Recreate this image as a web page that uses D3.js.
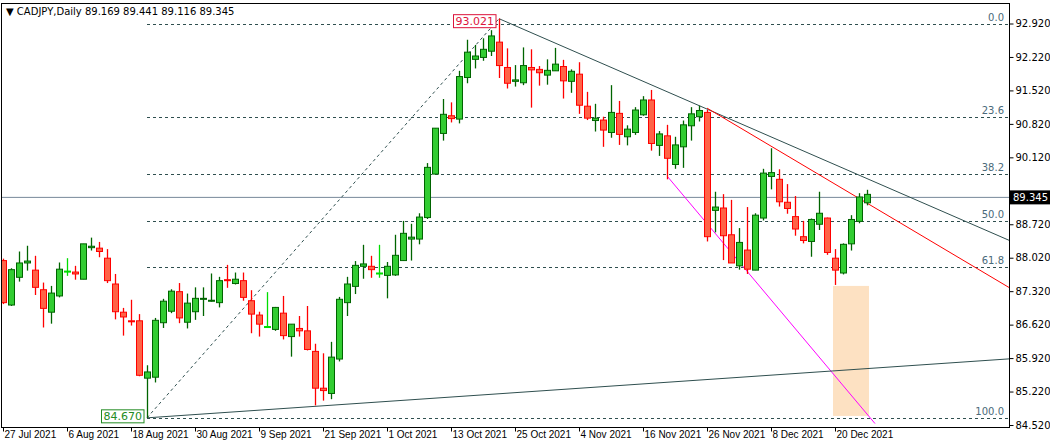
<!DOCTYPE html>
<html><head><meta charset="utf-8">
<script src="https://cdn.jsdelivr.net/npm/d3@7"></script>
<style>body{margin:0;background:#fff}text{font-family:"DejaVu Sans",sans-serif}</style>
</head><body><svg id="c" width="1050" height="448"></svg>
<script>
const open = [87.96,87.03,87.61,87.91,87.76,87.35,86.88,87.22,87.74,87.72,87.57,88.23,88.22,88.01,87.47,86.88,86.70,86.70,85.50,85.52,86.66,86.90,87.31,
86.67,86.89,87.15,87.12,87.08,87.56,87.48,87.54,87.12,86.82,86.58,86.52,86.86,86.37,86.54,86.49,86.06,85.29,85.18,85.90,87.08,
87.42,87.84,87.84,87.70,87.65,87.66,87.96,88.41,88.41,88.86,89.77,90.62,90.99,90.92,91.79,92.17,92.21,92.34,92.53,92.00,
91.71,91.68,92.00,91.96,91.84,91.93,92.02,91.71,91.86,91.19,90.89,90.90,90.64,91.04,90.55,90.64,91.01,91.32,90.37,90.57,89.97,90.34,
90.78,90.97,91.06,89.01,89.06,88.50,87.85,88.18,87.76,88.85,89.72,89.66,89.18,88.88,88.46,88.36,88.72,88.85,88.01,87.70,88.31,88.78,89.169];
const high = [88.00,87.80,88.15,88.27,88.06,87.50,87.43,87.92,88.01,87.85,88.31,88.44,88.35,88.20,87.68,86.97,87.14,86.84,85.77,86.76,87.16,87.36,87.49,
87.27,87.40,87.40,87.69,87.62,87.87,87.71,87.71,87.34,86.89,87.30,86.99,87.22,86.63,86.80,87.01,86.22,86.02,86.26,87.20,87.62,
87.95,88.29,88.06,88.29,87.93,88.50,88.79,88.73,88.95,90.00,90.73,91.34,91.27,91.93,92.58,92.47,92.61,92.78,93.021,92.40,
92.05,92.42,92.38,92.03,92.17,92.41,92.16,91.96,92.11,91.49,91.24,90.97,91.63,91.30,90.79,91.17,91.40,91.53,90.67,90.80,90.55,90.89,
91.17,91.20,91.11,89.40,89.35,89.23,88.64,89.08,88.95,89.88,90.31,89.87,89.56,89.31,88.79,88.84,89.40,88.86,88.20,88.32,88.91,89.37,89.441];
const low = [87.05,87.01,87.52,87.75,87.24,86.56,86.64,87.19,87.64,87.56,87.57,88.17,88.03,87.49,86.73,86.39,86.60,85.54,84.67,85.41,86.55,86.86,86.65,
86.54,86.72,86.80,87.10,86.98,87.39,87.46,87.12,86.44,86.37,86.56,86.49,86.31,85.95,86.37,86.08,84.93,85.03,85.06,85.85,86.80,
87.26,87.58,87.60,87.60,87.17,87.64,87.96,87.96,88.30,88.83,89.77,90.47,90.85,90.83,91.67,91.98,92.14,92.24,91.78,91.56,
91.60,91.63,91.16,91.62,91.64,91.93,91.35,91.47,91.03,90.90,90.66,90.34,90.53,90.38,90.37,90.59,90.99,90.26,90.15,89.66,89.88,89.90,
90.47,90.87,88.36,88.55,87.97,87.91,87.77,87.68,87.76,88.80,89.45,89.09,88.94,88.48,88.32,88.04,88.60,88.08,87.45,87.67,88.17,88.74,89.116];
const close = [87.08,87.77,87.91,87.95,87.40,86.96,87.28,87.78,87.74,87.68,88.31,88.26,88.15,87.54,86.89,86.78,86.69,85.56,85.63,86.71,87.11,87.32,86.76,
87.07,87.17,87.17,87.13,87.54,87.55,87.57,87.19,86.84,86.63,86.58,86.98,86.39,86.63,86.49,86.10,85.29,85.24,85.94,87.15,87.47,
87.86,87.89,87.77,87.70,87.84,88.07,88.53,88.45,88.87,89.91,90.73,91.02,90.93,91.81,92.32,92.24,92.38,92.66,92.04,91.67,
91.74,92.04,91.95,91.89,91.94,92.07,91.72,91.92,91.21,90.94,90.94,90.69,91.06,90.60,90.71,91.11,91.32,90.41,90.61,90.10,90.38,90.80,
91.03,91.10,88.46,89.08,88.48,87.91,88.34,87.78,88.91,89.79,89.80,89.19,89.05,88.62,88.38,88.82,88.95,88.13,87.76,88.30,88.82,89.29,89.345];
const dateLabels = ["27 Jul 2021","6 Aug 2021","18 Aug 2021","30 Aug 2021","9 Sep 2021","21 Sep 2021","1 Oct 2021",
  "13 Oct 2021","25 Oct 2021","4 Nov 2021","16 Nov 2021","26 Nov 2021","8 Dec 2021","20 Dec 2021"];
// 89.420 sits under the bid price tag, as in the reference
const priceTicks = [92.92,92.22,91.52,90.82,90.12,88.72,88.02,87.32,86.62,85.92,85.22,84.52];
const fibLevels = [0,23.6,38.2,50,61.8,100];
const fibLow = 84.67, fibHigh = 92.92, lastPrice = 89.345;

const L = 1, R = 1009, T = 3, B = 427;
const svg = d3.select("#c");
const x = d3.scaleLinear().domain([0, 108]).range([3, 867]);
const y = d3.scaleLinear().domain([84.52, 92.92]).range([425, 23.5]);
const root = svg.append("g");
root.append("clipPath").attr("id","clip").append("rect").attr("x",L).attr("y",T).attr("width",R-L).attr("height",B-T);
const g = root.append("g").attr("clip-path","url(#clip)");

// shaded box
g.append("rect").attr("x", x(104)-2).attr("y", y(87.43)).attr("width", x(108)-x(104)+4)
  .attr("height", y(84.71)-y(87.43)).attr("fill","#fde1c2");

// fib levels
const fibX0 = x(18);
fibLevels.forEach(f => {
  const p = fibHigh - f/100*(fibHigh-fibLow);
  g.append("line").attr("x1",fibX0).attr("x2",R).attr("y1",Math.round(y(p))+0.5).attr("y2",Math.round(y(p))+0.5)
    .attr("stroke","#2f4f4f").attr("stroke-dasharray","3,3");
  g.append("text").attr("x",1004).attr("y",Math.round(y(p))-3).attr("text-anchor","end")
    .attr("font-size",10).attr("fill","#4a6a7a").text(f.toFixed(1));
});
// bid line
g.append("line").attr("x1",L).attr("x2",R).attr("y1",y(lastPrice)+3).attr("y2",y(lastPrice)+3).attr("stroke","#778899");

// helper for lines extended to right edge
function ray(i0,p0,i1,p1,color,extend,dash){
  const s = (p1-p0)/(i1-i0);
  const iEnd = extend ? x.invert(R) : i1;
  g.append("line").attr("x1",x(i0)).attr("y1",y(p0)).attr("x2",x(iEnd)).attr("y2",y(p0+s*(iEnd-i0)))
    .attr("stroke",color).attr("stroke-width",1).attr("stroke-dasharray",dash||null);
}
ray(18,84.67,62,93.021,"#2f4f4f",false,"3,3");
ray(62,93.021,88,91.13,"#2f4f4f",true);
ray(88,91.15,105,89.46,"#ff0000",true);
ray(83,89.73,109,84.55,"#ff00ff",false);
ray(18,84.67,108,85.70,"#2f4f4f",true);

// candles
const idx = d3.range(open.length);
const col = i => close[i]>open[i] ? "bull" : (close[i]<open[i] ? "bear" : "doji");
const stroke = {bull:"#006400", bear:"#ff0000", doji:"#00dd00"};
const fill = {bull:"#32cd32", bear:"#ff6347", doji:"#00dd00"};
const cg = g.selectAll("g.c").data(idx).join("g").attr("class","c");
cg.append("line").attr("x1",i=>Math.round(x(i))+0.5).attr("x2",i=>Math.round(x(i))+0.5)
  .attr("y1",i=>y(high[i])).attr("y2",i=>y(low[i])).attr("stroke",i=>stroke[col(i)]).attr("stroke-width",1.3);
cg.append("rect").attr("x",i=>Math.round(x(i))-2.5).attr("width",6)
  .attr("y",i=>y(Math.max(open[i],close[i]))).attr("height",i=>Math.max(1,y(Math.min(open[i],close[i]))-y(Math.max(open[i],close[i]))))
  .attr("fill",i=>fill[col(i)]).attr("stroke",i=>stroke[col(i)]);

// price tags
function tag(cx,cy,txt,color){
  const box = root.append("rect");
  const t = root.append("text").attr("x",cx).attr("y",cy+5).attr("font-size",11).attr("fill",color)
    .attr("text-anchor","end").text(txt);
  const bb = t.node().getBBox();
  box.attr("x",bb.x-2).attr("y",bb.y).attr("width",bb.width+4).attr("height",bb.height)
    .attr("fill","#fff").attr("stroke",color);
}
tag(x(62)-5, y(93.021)+1, "93.021", "#dc143c");
tag(x(18)-5, y(84.67)-3, "84.670", "#228b22");

// frame and axes
svg.append("rect").attr("x",L+0.5).attr("y",T+0.5).attr("width",R-L).attr("height",B-T).attr("fill","none").attr("stroke","#000");
const ya = svg.append("g").attr("transform",`translate(${R+0.5},0)`)
  .call(d3.axisRight(y).tickValues(priceTicks).tickFormat(d3.format(".3f")).tickSize(4));
ya.select(".domain").remove();
ya.selectAll("text").attr("font-size",10).attr("fill","#000").attr("x",6);
const by = y(lastPrice)+3;
svg.append("rect").attr("x",R+1).attr("y",by-7).attr("width",40).attr("height",14).attr("fill","#000");
svg.append("text").attr("x",R+4).attr("y",by+4).attr("font-size",10).attr("fill","#fff").text(lastPrice.toFixed(3));

const xa = svg.append("g").attr("transform",`translate(0,${B+0.5})`)
  .call(d3.axisBottom(x).tickValues(d3.range(0,dateLabels.length*8,8)).tickFormat((d,i)=>dateLabels[i]).tickSize(4));
xa.select(".domain").remove();
xa.selectAll("text").style("font-family","'Liberation Sans',sans-serif").style("font-size","10px").attr("fill","#000")
  .attr("text-anchor","start").attr("x",1).attr("dy","0.3em");

svg.append("text").attr("x",6).attr("y",15).attr("font-size",10).attr("fill","#000")
  .text("\u25BC CADJPY,Daily  89.169 89.441 89.116 89.345");
</script></body></html>
